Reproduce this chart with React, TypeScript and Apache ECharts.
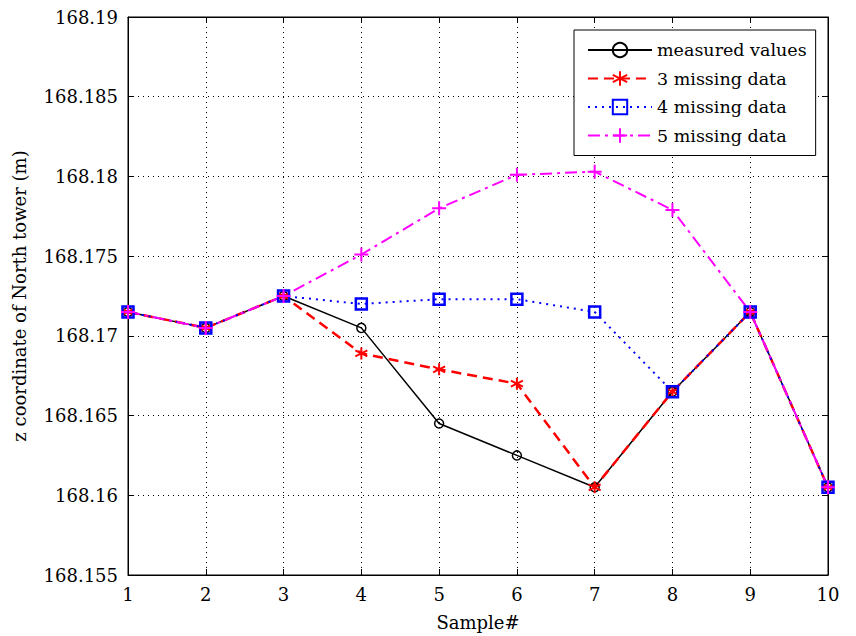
import React, { useEffect, useRef } from "react";
import * as echarts from "echarts";

const samples = [1, 2, 3, 4, 5, 6, 7, 8, 9, 10];
const measured = [168.1715, 168.1705, 168.1725, 168.1705, 168.1645, 168.1625, 168.1605, 168.1665, 168.1715, 168.1605];
const missing3 = [168.1715, 168.1705, 168.1725, 168.1689, 168.1679, 168.167, 168.1605, 168.1665, 168.1715, 168.1605];
const missing4 = [168.1715, 168.1705, 168.1725, 168.172, 168.1723, 168.1723, 168.1715, 168.1665, 168.1715, 168.1605];
const missing5 = [168.1715, 168.1705, 168.1725, 168.1751, 168.178, 168.1801, 168.1803, 168.1779, 168.1715, 168.1605];
const seriesNames = ["measured values", "3 missing data", "4 missing data", "5 missing data"];

const FONT = "DejaVu Serif";

const pair = (ys: number[]) => samples.map((x, i) => [x, ys[i]]);

export default function App() {
  const ref = useRef<HTMLDivElement>(null);
  useEffect(() => {
    if (!ref.current) return;
    const chart = echarts.init(ref.current, undefined, { renderer: "svg" });
    const fmtY = (v: number) => String(parseFloat(v.toFixed(4)));
    const axisCommon = {
      axisLine: { show: true, lineStyle: { color: "#000", width: 1 } },
      axisTick: { show: true, inside: true, length: 6, lineStyle: { color: "#000" } },
    };
    chart.setOption({
      animation: false,
      backgroundColor: "#fff",
      grid: { left: 128, right: 28, top: 17, bottom: 59, show: true, borderColor: "#000", borderWidth: 1, containLabel: false },
      legend: {
        left: 574,
        top: 30,
        orient: "vertical",
        data: seriesNames,
        backgroundColor: "#fff",
        borderColor: "#000",
        borderWidth: 1,
        padding: [11, 9, 11, 13],
        itemWidth: 64,
        itemHeight: 18,
        itemGap: 10.5,
        textStyle: { fontFamily: FONT, fontSize: 17.5, color: "#000" },
      },
      xAxis: [
        {
          type: "value",
          min: 1,
          max: 10,
          interval: 1,
          name: "Sample#",
          nameLocation: "middle",
          nameGap: 38,
          nameTextStyle: { fontFamily: FONT, fontSize: 18, color: "#000" },
          ...axisCommon,
          axisLabel: { fontFamily: FONT, fontSize: 18, color: "#000", margin: 10 },
          splitLine: { show: true, lineStyle: { color: "#000", type: [1, 4], width: 1 } },
        },
        {
          type: "value",
          position: "top",
          min: 1,
          max: 10,
          interval: 1,
          ...axisCommon,
          axisLabel: { show: false },
          splitLine: { show: false },
        },
      ],
      yAxis: [
        {
          type: "value",
          min: 168.155,
          max: 168.19,
          interval: 0.005,
          name: "z coordinate of North tower (m)",
          nameLocation: "middle",
          nameGap: 100,
          nameTextStyle: { fontFamily: FONT, fontSize: 18, color: "#000" },
          ...axisCommon,
          axisLabel: { fontFamily: FONT, fontSize: 18, color: "#000", margin: 10, formatter: fmtY },
          splitLine: { show: true, lineStyle: { color: "#000", type: [1, 4], width: 1 } },
        },
        {
          type: "value",
          position: "right",
          min: 168.155,
          max: 168.19,
          interval: 0.005,
          ...axisCommon,
          axisLabel: { show: false },
          splitLine: { show: false },
        },
      ],
      series: [
        {
          name: seriesNames[0],
          type: "line",
          data: pair(measured),
          color: "#000",
          symbol: "circle",
          symbolSize: 9,
          lineStyle: { color: "#000", width: 1.5, type: "solid" },
          itemStyle: { color: "transparent", borderColor: "#000", borderWidth: 1.5 },
          emphasis: { disabled: true },
        },
        {
          name: seriesNames[1],
          type: "line",
          data: pair(missing3),
          color: "#ff0000",
          symbol: "path://M0,-6L0,6M-5.2,-3L5.2,3M-5.2,3L5.2,-3",
          symbolSize: 12,
          lineStyle: { color: "#ff0000", width: 2.5, type: [10, 6] },
          itemStyle: { color: "transparent", borderColor: "#ff0000", borderWidth: 2 },
          emphasis: { disabled: true },
        },
        {
          name: seriesNames[2],
          type: "line",
          data: pair(missing4),
          color: "#0000ff",
          symbol: "rect",
          symbolSize: 11,
          lineStyle: { color: "#0000ff", width: 2, type: [2, 5] },
          itemStyle: { color: "transparent", borderColor: "#0000ff", borderWidth: 2.5 },
          emphasis: { disabled: true },
        },
        {
          name: seriesNames[3],
          type: "line",
          data: pair(missing5),
          color: "#ff00ff",
          symbol: "path://M0,-6L0,6M-6,0L6,0",
          symbolSize: 14,
          lineStyle: { color: "#ff00ff", width: 2, type: [12, 5, 3, 5] },
          itemStyle: { color: "transparent", borderColor: "#ff00ff", borderWidth: 2 },
          emphasis: { disabled: true },
        },
      ],
    });
    return () => chart.dispose();
  }, []);
  return <div ref={ref} style={{ position: "absolute", left: 0, top: 0, width: 856, height: 636 }} />;
}
